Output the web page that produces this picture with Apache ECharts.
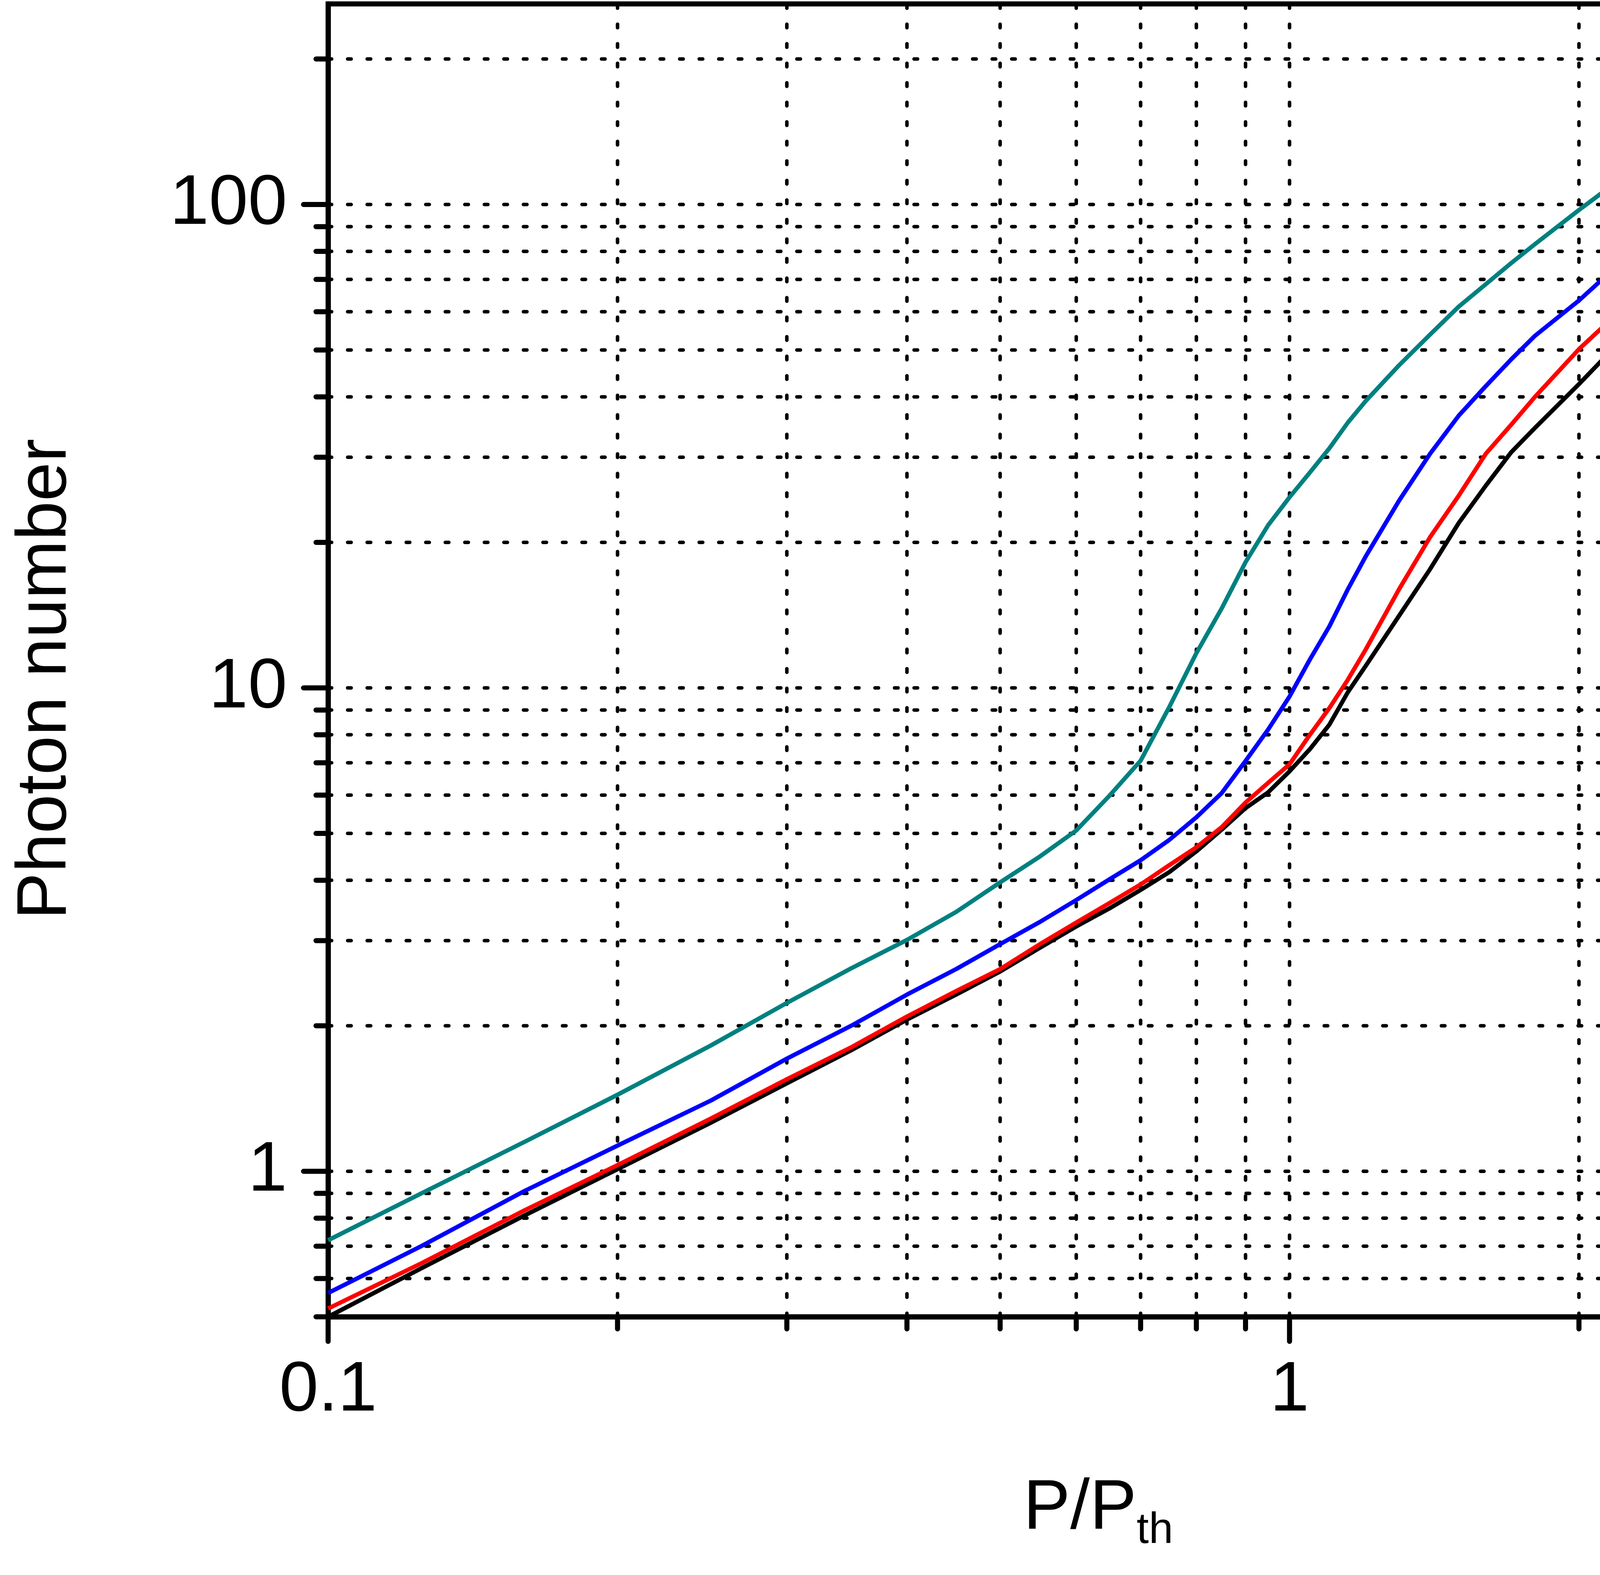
<!DOCTYPE html>
<html style="height: 100%">

<head>
    <meta charset="utf-8">
</head>

<body style="height: 100%; margin: 0">
    <div id="container" style="width: 4800px; height: 4032px"></div>

    <script type="text/javascript" src="https://cdn.jsdelivr.net/npm/echarts@6/dist/echarts.min.js"></script>

    <script type="text/javascript">
        // P/Pth values shared by all four curves
        var pump = [0.1, 0.125, 0.16, 0.2, 0.25, 0.3, 0.35, 0.4, 0.45, 0.5,
            0.55, 0.6, 0.65, 0.7, 0.75, 0.8, 0.85, 0.9, 0.95, 1.0,
            1.05, 1.1, 1.15, 1.2, 1.3, 1.4, 1.5, 1.6, 1.7, 1.8,
            2.0, 2.25, 2.5, 2.75, 3.0, 3.25, 3.5, 3.75, 4.0];

        // photon numbers
        var photonBlack = [0.50, 0.63, 0.81, 1.01, 1.26, 1.52, 1.78, 2.06, 2.32, 2.59,
            2.90, 3.21, 3.50, 3.82, 4.16, 4.59, 5.09, 5.64, 6.08, 6.72,
            7.47, 8.39, 9.8, 11.1, 14.1, 17.6, 21.95, 26.2, 30.7, 34.5,
            42.5, 54.2, 64.7, 76.9, 90.2, 102.9, 115.6, 126.9, 140];
        var photonRed = [0.52, 0.645, 0.83, 1.03, 1.285, 1.55, 1.805, 2.09, 2.36, 2.62,
            2.95, 3.27, 3.59, 3.92, 4.30, 4.68, 5.15, 5.79, 6.36, 6.95,
            8.0, 9.08, 10.4, 12.0, 16.0, 20.5, 25.0, 30.5, 35.0, 40.0,
            50.2, 62.4, 75.9, 88.7, 102, 116.4, 130.2, 141, 153.5];
        var photonBlue = [0.56, 0.70, 0.91, 1.13, 1.40, 1.71, 2.00, 2.32, 2.62, 2.95,
            3.28, 3.64, 4.02, 4.40, 4.85, 5.40, 6.06, 7.06, 8.2, 9.6,
            11.45, 13.4, 16.0, 18.7, 24.4, 30.5, 36.6, 42.1, 47.8, 53.5,
            63.3, 78.3, 91.7, 105, 119, 135.2, 150.3, 161.2, 173.6];
        var photonTeal = [0.72, 0.90, 1.15, 1.44, 1.82, 2.23, 2.63, 3.01, 3.44, 3.96,
            4.48, 5.07, 5.99, 7.07, 9.14, 11.8, 14.6, 18.2, 21.7, 24.8,
            27.9, 31.3, 35.4, 39.2, 46.5, 53.8, 61.5, 68.4, 75.6, 82.8,
            97.4, 116, 133.5, 150.8, 168, 186.6, 204.5, 219.7, 237];

        // axis ranges, ticks, grid lines and labels
        var xRange = [0.1, 4];
        var yRange = [0.5, 260];
        var xLabels = [0.1, 1];
        var yLabels = [1, 10, 100];
        var xMajor = [0.1, 1];
        var yMajor = [1, 10, 100];
        var xTicks = [0.1, 0.2, 0.3, 0.4, 0.5, 0.6, 0.7, 0.8, 0.9, 1, 2, 3, 4];
        var yTicks = [0.5, 0.6, 0.7, 0.8, 0.9, 1, 2, 3, 4, 5, 6, 7, 8, 9,
            10, 20, 30, 40, 50, 60, 70, 80, 90, 100, 200];
        var xGrid = [0.2, 0.3, 0.4, 0.5, 0.6, 0.7, 0.8, 0.9, 1, 2, 3];
        var yGrid = [0.6, 0.7, 0.8, 0.9, 1, 2, 3, 4, 5, 6, 7, 8, 9,
            10, 20, 30, 40, 50, 60, 70, 80, 90, 100, 200];

        var font = "'Liberation Sans', Arial, sans-serif";

        function same(a, b) {
            return Math.abs(a / b - 1) < 1e-6;
        }
        function inList(list, v) {
            return list.some(function (l) { return same(l, v); });
        }

        function pairs(ys) {
            return pump.map(function (x, i) { return [x, ys[i]]; });
        }

        // dotted grid line across the whole plot
        function guideItem(dir) {
            return function (params, api) {
                var a, b;
                if (dir === 'x') {
                    a = api.coord([api.value(0), yRange[0]]);
                    b = api.coord([api.value(0), yRange[1]]);
                } else {
                    a = api.coord([xRange[0], api.value(1)]);
                    b = api.coord([xRange[1], api.value(1)]);
                }
                return {
                    type: 'line',
                    silent: true,
                    shape: { x1: a[0], y1: a[1], x2: b[0], y2: b[1] },
                    style: { stroke: '#000', lineWidth: 9, lineDash: [9, 41], lineCap: 'round' }
                };
            };
        }

        // outward tick, longer on the decades
        function tickItem(dir) {
            return function (params, api) {
                var p, q, len;
                if (dir === 'x') {
                    len = inList(xMajor, api.value(0)) ? 63 : 31;
                    p = api.coord([api.value(0), yRange[0]]);
                    q = [p[0], p[1] + len];
                } else {
                    len = inList(yMajor, api.value(1)) ? 63 : 31;
                    p = api.coord([xRange[0], api.value(1)]);
                    q = [p[0] - len, p[1]];
                }
                return {
                    type: 'line',
                    silent: true,
                    shape: { x1: p[0], y1: p[1], x2: q[0], y2: q[1] },
                    style: { stroke: '#000', lineWidth: 13, lineCap: 'round' }
                };
            };
        }

        function curve(name, color, ys, z) {
            return {
                name: name,
                type: 'line',
                data: pairs(ys),
                showSymbol: false,
                smooth: false,
                z: z,
                lineStyle: { color: color, width: 11, join: 'round' }
            };
        }

        var chartDom = document.getElementById('container');
        var myChart = echarts.init(chartDom);
        var option;

        option = {
            animation: false,
            backgroundColor: '#fff',
            grid: {
                left: 840,
                right: 17,
                top: 10,
                bottom: 661,
                show: true,
                borderColor: '#000',
                borderWidth: 13,
                containLabel: false,
                outerBoundsMode: 'none'
            },
            xAxis: {
                type: 'log',
                logBase: 10,
                min: xRange[0],
                max: xRange[1],
                name: '{a|P/P}{b|th}',
                nameLocation: 'middle',
                nameGap: 402,
                nameTextStyle: {
                    rich: {
                        a: { fontSize: 180, lineHeight: 180, fontFamily: font, color: '#000', verticalAlign: 'top' },
                        b: { fontSize: 112, lineHeight: 112, fontFamily: font, color: '#000', verticalAlign: 'top', padding: [90, 0, 0, 0] }
                    }
                },
                axisLine: { lineStyle: { color: '#000', width: 13 } },
                axisTick: { show: false },
                splitLine: { show: false },
                axisLabel: {
                    fontSize: 180,
                    fontFamily: font,
                    color: '#000',
                    margin: 100,
                    showMinLabel: true,
                    formatter: function (v) { return inList(xLabels, v) ? String(v) : ''; }
                }
            },
            yAxis: {
                type: 'log',
                logBase: 10,
                min: yRange[0],
                max: yRange[1],
                name: 'Photon number',
                nameLocation: 'middle',
                nameGap: 632,
                nameTextStyle: { fontSize: 180, fontFamily: font, color: '#000', padding: [0, 96, 0, 0] },
                axisLine: { lineStyle: { color: '#000', width: 13 } },
                axisTick: { show: false },
                splitLine: { show: false },
                axisLabel: {
                    fontSize: 180,
                    fontFamily: font,
                    color: '#000',
                    margin: 105,
                    formatter: function (v) { return inList(yLabels, v) ? String(v) : ''; }
                }
            },
            series: [
                {
                    name: 'xGrid', type: 'custom', clip: false, silent: true, z: 1,
                    renderItem: guideItem('x'),
                    data: xGrid.map(function (v) { return [v, yRange[0]]; })
                },
                {
                    name: 'yGrid', type: 'custom', clip: false, silent: true, z: 1,
                    renderItem: guideItem('y'),
                    data: yGrid.map(function (v) { return [xRange[0], v]; })
                },
                {
                    name: 'xTicks', type: 'custom', clip: false, silent: true, z: 5,
                    renderItem: tickItem('x'),
                    data: xTicks.map(function (v) { return [v, yRange[0]]; })
                },
                {
                    name: 'yTicks', type: 'custom', clip: false, silent: true, z: 5,
                    renderItem: tickItem('y'),
                    data: yTicks.map(function (v) { return [xRange[0], v]; })
                },
                curve('black', '#000000', photonBlack, 2),
                curve('red', '#ff0000', photonRed, 3),
                curve('blue', '#0000ff', photonBlue, 3),
                curve('teal', '#008080', photonTeal, 3)
            ]
        };

        option && myChart.setOption(option);

    </script>
</body>

</html>
